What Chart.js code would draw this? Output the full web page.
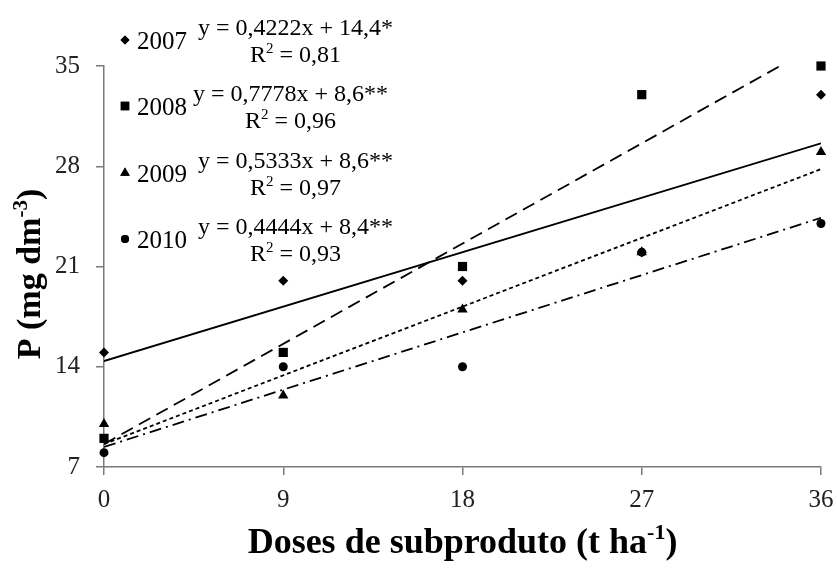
<!DOCTYPE html>
<html>
<head>
<meta charset="utf-8">
<script src="https://cdn.jsdelivr.net/npm/chart.js@4/dist/chart.umd.min.js"></script>
<style>
html, body { margin: 0; padding: 0; background: #fff; }
#wrap { width: 837px; height: 568px; }
</style>
</head>
<body>
<div id="wrap"><canvas id="grafico"></canvas></div>
<script>
// Doses de subproduto (t ha-1)
const doses = [0, 9, 18, 27, 36];
const anos = ['2007', '2008', '2009', '2010'];

// P (mg dm-3) por ano
const p2007 = [15, 20, 20, 22, 33];
const p2008 = [9, 15, 21, 33, 35];
const p2009 = [10, 12, 18, 22, 29];
const p2010 = [8, 14, 14, 22, 24];

// Regressões lineares
const inclinacoes = [0.4222, 0.7778, 0.5333, 0.4444];
const interceptos = [14.4, 8.6, 8.6, 8.4];
const signif = ['*', '**', '**', '**'];
const r2 = [0.81, 0.96, 0.97, 0.93];

const yTicks = [7, 14, 21, 28, 35];
const xTicks = [0, 9, 18, 27, 36];

// estilo
const valores = [p2007, p2008, p2009, p2010];
const marcadores = ['rectRot', 'rect', 'triangle', 'circle'];
const raios = [5, 6.5, 6, 4.5];
const tracos = [[], [13, 7], [4, 3], [12, 5, 2, 5]];
const serif = "'Liberation Serif', 'Times New Roman', serif";

function virgula(n, d) {
    return n.toFixed(d).replace('.', ',');
}

const datasets = [];
anos.forEach((ano, i) => {
    datasets.push({
        type: 'scatter',
        label: ano,
        data: doses.map((d, k) => ({ x: d, y: valores[i][k] })),
        pointStyle: marcadores[i],
        pointRadius: raios[i],
        pointBackgroundColor: '#000',
        pointBorderColor: '#000',
        pointBorderWidth: 0,
        clip: false,
        order: 0
    });
});
anos.forEach((ano, i) => {
    const x0 = doses[0], x1 = doses[doses.length - 1];
    datasets.push({
        type: 'line',
        label: 'ajuste ' + ano,
        data: [
            { x: x0, y: inclinacoes[i] * x0 + interceptos[i] },
            { x: x1, y: inclinacoes[i] * x1 + interceptos[i] }
        ],
        borderColor: '#000',
        borderWidth: 1.8,
        borderDash: tracos[i],
        pointRadius: 0,
        fill: false,
        order: 1
    });
});

// desenha texto com partes sobrescritas
function textoSup(ctx, partes, x, y, tam, peso, align) {
    const fNormal = peso + ' ' + tam + 'px ' + serif;
    const fSup = peso + ' ' + Math.round(tam * 0.62) + 'px ' + serif;
    let total = 0;
    partes.forEach(p => {
        ctx.font = p.sup ? fSup : fNormal;
        total += ctx.measureText(p.t).width;
    });
    let cx = align === 'center' ? x - total / 2 : x;
    ctx.textAlign = 'left';
    ctx.textBaseline = 'alphabetic';
    partes.forEach(p => {
        ctx.font = p.sup ? fSup : fNormal;
        ctx.fillText(p.t, cx, p.sup ? y - tam * 0.38 : y);
        cx += ctx.measureText(p.t).width;
    });
}

const extras = {
    id: 'extras',
    afterDraw(chart) {
        const ctx = chart.ctx;
        const area = chart.chartArea;
        ctx.save();
        ctx.fillStyle = '#000';

        // legenda com equações
        const linhasY = [40, 106, 173, 239];
        anos.forEach((ano, i) => {
            const y = linhasY[i];
            Chart.helpers.drawPoint(ctx, {
                pointStyle: marcadores[i], radius: raios[i] - 0.5, rotation: 0, borderWidth: 0
            }, 125, y);
            ctx.fill();
            ctx.font = '25px ' + serif;
            ctx.textAlign = 'left';
            ctx.textBaseline = 'alphabetic';
            ctx.fillText(ano, 137, y + 9);
            const eq = 'y = ' + virgula(inclinacoes[i], 4) + 'x + ' + virgula(interceptos[i], 1) + signif[i];
            ctx.font = '24px ' + serif;
            const eqX = i === 1 ? 193 : 198;
            ctx.fillText(eq, eqX, y - 5);
            const w = ctx.measureText(eq).width;
            textoSup(ctx, [{ t: 'R' }, { t: '2', sup: true }, { t: ' = ' + virgula(r2[i], 2) }],
                eqX + w / 2, y + 22, 24, 'normal', 'center');
        });

        // títulos dos eixos
        textoSup(ctx, [{ t: 'Doses de subproduto (t ha' }, { t: '-1', sup: true }, { t: ')' }],
            (area.left + area.right) / 2, 553, 36, 'bold', 'center');
        ctx.translate(40, 274);
        ctx.rotate(-Math.PI / 2);
        textoSup(ctx, [{ t: 'P (mg dm' }, { t: '-3', sup: true }, { t: ')' }],
            0, 0, 34, 'bold', 'center');
        ctx.restore();
    }
};

new Chart(document.getElementById('grafico'), {
    data: { datasets: datasets },
    options: {
        responsive: true,
        maintainAspectRatio: false,
        animation: false,
        layout: { padding: { left: 0, right: 16, top: 66, bottom: 0 } },
        plugins: {
            legend: { display: false },
            tooltip: { enabled: false }
        },
        scales: {
            x: {
                type: 'linear',
                min: 0,
                max: 36,
                afterFit: s => { s.height = 101; s.paddingLeft = 0; s.paddingRight = 0; },
                afterBuildTicks: s => { s.ticks = xTicks.map(v => ({ value: v })); },
                grid: { drawOnChartArea: false, tickLength: 8, color: '#7a7a7a', lineWidth: 1.5 },
                border: { color: '#7a7a7a', width: 1.5 },
                ticks: { font: { family: serif, size: 25 }, color: '#222', padding: 10, maxRotation: 0 }
            },
            y: {
                min: 7,
                max: 35,
                afterFit: s => { s.width = 104; s.paddingTop = 0; s.paddingBottom = 0; },
                afterBuildTicks: s => { s.ticks = yTicks.map(v => ({ value: v })); },
                grid: { drawOnChartArea: false, tickLength: 8, color: '#7a7a7a', lineWidth: 1.5 },
                border: { color: '#7a7a7a', width: 1.5 },
                ticks: { font: { family: serif, size: 25 }, color: '#222', padding: 16 }
            }
        }
    },
    plugins: [extras]
});
</script>
</body>
</html>
